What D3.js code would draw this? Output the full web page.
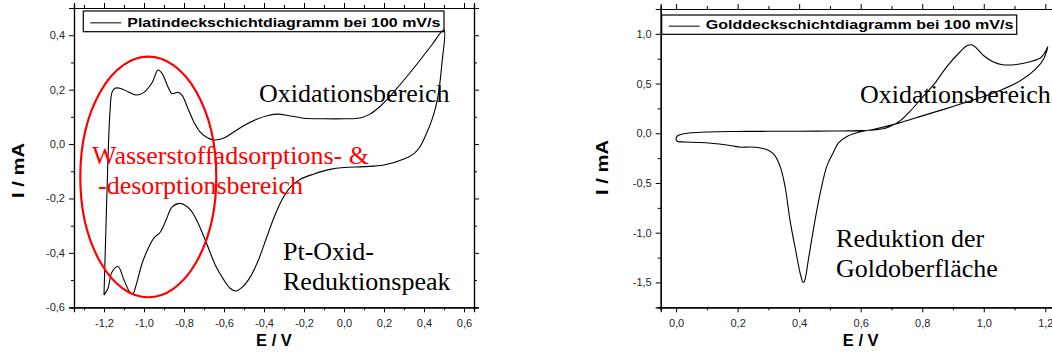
<!DOCTYPE html>
<html>
<head>
<meta charset="utf-8">
<script src="https://cdn.jsdelivr.net/npm/d3@7"></script>
<style>
  body { margin: 0; background: #fff; }
  svg { display: block; }
</style>
</head>
<body>
<svg id="chart" width="1052" height="358"></svg>
<script>
// ---- Platinum cyclic voltammogram (anodic sweep -1.2 V -> 0.5 V, then back) ----
const ptPotential = [
  -1.2, -1.19, -1.18, -1.17, -1.16, -1.145, -1.12, -1.08, -1.04, -1.0, -0.96, -0.93, -0.91,
  -0.88, -0.86, -0.83, -0.81, -0.78, -0.75, -0.72, -0.68, -0.65, -0.6, -0.55, -0.5, -0.44,
  -0.38, -0.33, -0.28, -0.2, -0.1, 0.0, 0.08, 0.13, 0.18, 0.23, 0.28, 0.33, 0.38, 0.44, 0.5,
  0.49, 0.475, 0.46, 0.44, 0.41, 0.38, 0.35, 0.3, 0.2, 0.1, 0.0, -0.07, -0.15, -0.22, -0.27,
  -0.31, -0.35, -0.39, -0.43, -0.47, -0.51, -0.54, -0.57, -0.6, -0.64, -0.69, -0.73, -0.77,
  -0.82, -0.86, -0.89, -0.92, -0.95, -0.98, -1.01, -1.04, -1.055, -1.07, -1.1, -1.13, -1.16,
  -1.18, -1.2
];
const ptCurrent = [
  -0.555, -0.3, -0.05, 0.12, 0.19, 0.205, 0.205, 0.192, 0.18, 0.19, 0.225, 0.272, 0.26,
  0.21, 0.185, 0.19, 0.18, 0.13, 0.08, 0.045, 0.022, 0.015, 0.022, 0.045, 0.068, 0.09,
  0.105, 0.11, 0.105, 0.095, 0.093, 0.093, 0.096, 0.11, 0.138, 0.175, 0.218, 0.262, 0.308, 0.365, 0.42,
  0.3, 0.2, 0.14, 0.09, 0.035, -0.01, -0.035, -0.055, -0.077, -0.083, -0.086, -0.093, -0.11, -0.13, -0.16,
  -0.205, -0.27, -0.35, -0.43, -0.49, -0.527, -0.54, -0.53, -0.5, -0.45, -0.36, -0.29, -0.24,
  -0.218, -0.232, -0.28, -0.325, -0.345, -0.385, -0.44, -0.52, -0.55, -0.545, -0.5, -0.45, -0.47,
  -0.53, -0.555
];

// ---- Gold cyclic voltammogram (anodic sweep 0 V -> 1.2 V, then back) ----
const auPotential = [
  0.0, 0.005, 0.02, 0.05, 0.1, 0.2, 0.3, 0.4, 0.5, 0.6, 0.65, 0.68, 0.7, 0.73, 0.76, 0.8,
  0.84, 0.88, 0.92, 0.945, 0.96, 0.975, 1.0, 1.03, 1.06, 1.1, 1.15, 1.185, 1.2, 1.208,
  1.195, 1.17, 1.12, 1.06, 1.0, 0.9, 0.8, 0.72, 0.65, 0.6, 0.56, 0.53, 0.51, 0.49, 0.47,
  0.45, 0.43, 0.418, 0.413, 0.405, 0.39, 0.37, 0.355, 0.34, 0.32, 0.3, 0.27, 0.24, 0.21,
  0.18, 0.13, 0.08, 0.03, 0.005, 0.0, 0.0
];
const auCurrent = [
  -0.05, -0.025, -0.008, 0.005, 0.013, 0.018, 0.02, 0.021, 0.023, 0.027, 0.035, 0.05, 0.075, 0.13, 0.22, 0.36,
  0.5, 0.67, 0.81, 0.88, 0.89, 0.86, 0.78, 0.72, 0.69, 0.69, 0.72, 0.76, 0.82, 0.87,
  0.75, 0.65, 0.53, 0.44, 0.37, 0.27, 0.175, 0.1, 0.045, 0.015, -0.025, -0.09, -0.2, -0.33, -0.58,
  -0.9, -1.27, -1.48, -1.5, -1.43, -1.2, -0.87, -0.55, -0.35, -0.22, -0.17, -0.145, -0.138, -0.14,
  -0.125, -0.105, -0.093, -0.087, -0.082, -0.065, -0.05
];

// ---- Axis ticks ----
const ptXTicks = [-1.2, -1.0, -0.8, -0.6, -0.4, -0.2, 0.0, 0.2, 0.4, 0.6];
const ptXMinor = [-1.3, -1.1, -0.9, -0.7, -0.5, -0.3, -0.1, 0.1, 0.3, 0.5];
const ptYTicks = [-0.6, -0.4, -0.2, 0.0, 0.2, 0.4];
const ptYMinor = [-0.5, -0.3, -0.1, 0.1, 0.3];
const auXTicks = [0.0, 0.2, 0.4, 0.6, 0.8, 1.0, 1.2];
const auXMinor = [0.1, 0.3, 0.5, 0.7, 0.9, 1.1];
const auYTicks = [-1.5, -1.0, -0.5, 0.0, 0.5, 1.0];
const auYMinor = [-1.25, -0.75, -0.25, 0.25, 0.75];

// ---- Texts ----
const ptLegend = "Platindeckschichtdiagramm bei 100 mV/s";
const auLegend = "Golddeckschichtdiagramm bei 100 mV/s";
const xTitle = "E / V";
const yTitle = "I / mA";

// annotation labels, anchored in data units (potential, current)
const ptNotes = [
  { text: "Oxidationsbereich", e: -0.425, i: 0.155, color: "#000" },
  { text: "Wasserstoffadsorptions- &", e: -1.26, i: -0.072, color: "#ff0000" },
  { text: "-desorptionsbereich", e: -1.23, i: -0.185, color: "#ff0000" },
  { text: "Pt-Oxid-", e: -0.305, i: -0.426, color: "#000" },
  { text: "Reduktionspeak", e: -0.305, i: -0.536, color: "#000" }
];
const auNotes = [
  { text: "Oxidationsbereich", e: 0.598, i: 0.302, color: "#000" },
  { text: "Reduktion der", e: 0.52, i: -1.145, color: "#000" },
  { text: "Goldoberfläche", e: 0.52, i: -1.447, color: "#000" }
];
// hydrogen region marker: centre and radii in data units
const ptRegion = { e: -0.9785, i: -0.121, re: 0.34, ri: 0.442 };

const svg = d3.select("#chart");
svg.append("rect").attr("width", 1052).attr("height", 358).attr("fill", "#fff");

const fmt = v => d3.format(".1f")(v).replace(".", ",").replace("\u2212", "-");
const SANS = "'Liberation Sans', Arial, sans-serif";
const SERIF = "'Liberation Serif', 'Times New Roman', serif";

function panel(cfg) {
  const g = svg.append("g").attr("transform", `translate(${cfg.left},${cfg.top})`);
  const x = d3.scaleLinear().domain(cfg.xDomain).range([0, cfg.width]);
  const y = d3.scaleLinear().domain(cfg.yDomain).range([cfg.height, 0]);

  const styleAxis = sel => {
    sel.select(".domain").attr("stroke", "#000").attr("stroke-width", 1.2);
    sel.selectAll(".tick line").attr("stroke", "#000").attr("stroke-width", 1);
    sel.selectAll(".tick text").attr("fill", "#262626")
      .style("font-family", SANS).style("font-size", "11px");
  };

  // bottom & left with labels
  g.append("g").attr("transform", `translate(0,${cfg.height})`)
    .call(d3.axisBottom(x).tickValues(cfg.xTicks).tickFormat(fmt).tickSize(5).tickPadding(7))
    .call(styleAxis);
  g.append("g").attr("transform", `translate(0,${cfg.height})`)
    .call(d3.axisBottom(x).tickValues(cfg.xMinor).tickFormat("").tickSize(3))
    .call(styleAxis);
  g.append("g")
    .call(d3.axisLeft(y).tickValues(cfg.yTicks).tickFormat(fmt).tickSize(5).tickPadding(4))
    .call(styleAxis);
  g.append("g")
    .call(d3.axisLeft(y).tickValues(cfg.yMinor).tickFormat("").tickSize(3))
    .call(styleAxis);
  // mirrored top & right, ticks only
  g.append("g").call(d3.axisTop(x).tickValues(cfg.xTicks).tickFormat("").tickSize(5)).call(styleAxis);
  g.append("g").call(d3.axisTop(x).tickValues(cfg.xMinor).tickFormat("").tickSize(3)).call(styleAxis);
  g.append("g").attr("transform", `translate(${cfg.width},0)`)
    .call(d3.axisRight(y).tickValues(cfg.yTicks).tickFormat("").tickSize(5)).call(styleAxis);
  g.append("g").attr("transform", `translate(${cfg.width},0)`)
    .call(d3.axisRight(y).tickValues(cfg.yMinor).tickFormat("").tickSize(3)).call(styleAxis);

  // legend box
  const lg = g.append("g").attr("transform", `translate(${cfg.legend.x},${cfg.legend.y})`);
  lg.append("rect").attr("width", cfg.legend.w).attr("height", cfg.legend.h)
    .attr("fill", "#fff").attr("stroke", "#000").attr("stroke-width", 1.2);
  lg.append("line").attr("x1", 7).attr("x2", 38).attr("y1", cfg.legend.h / 2 + 1.5).attr("y2", cfg.legend.h / 2 + 1.5)
    .attr("stroke", "#000").attr("stroke-width", 1);
  lg.append("text").attr("x", 44).attr("y", cfg.legend.h - 5)
    .attr("textLength", cfg.legend.tl).attr("lengthAdjust", "spacingAndGlyphs")
    .style("font-family", SANS).style("font-weight", "bold").style("font-size", "13px")
    .text(cfg.legend.text);

  // curve
  const line = d3.line().x(d => x(d[0])).y(d => y(d[1])).curve(d3.curveCatmullRom.alpha(0.5));
  const pts = cfg.E.map((e, k) => [e, cfg.I[k]]);
  g.append("path").datum(pts).attr("d", line)
    .attr("fill", "none").attr("stroke", "#000").attr("stroke-width", 1.1);

  // region ellipse
  if (cfg.region) {
    const r = cfg.region;
    g.append("ellipse")
      .attr("cx", x(r.e)).attr("cy", y(r.i))
      .attr("rx", x(r.e + r.re) - x(r.e)).attr("ry", y(r.i - r.ri) - y(r.i))
      .attr("fill", "none").attr("stroke", "#ff0000").attr("stroke-width", 2.2);
  }

  // annotations
  g.selectAll("text.note").data(cfg.notes).join("text").attr("class", "note")
    .attr("x", d => x(d.e)).attr("y", d => y(d.i))
    .attr("fill", d => d.color)
    .style("font-family", SERIF).style("font-size", "26px")
    .text(d => d.text);

  // axis titles
  g.append("text").attr("x", cfg.width / 2).attr("y", 345.5 - cfg.top)
    .attr("text-anchor", "middle")
    .style("font-family", SANS).style("font-weight", "bold").style("font-size", "16.5px")
    .text(xTitle);
  g.append("text")
    .attr("transform", `translate(${cfg.yTitle.x - cfg.left},${cfg.yTitle.y - cfg.top}) rotate(-90)`)
    .attr("text-anchor", "middle")
    .attr("textLength", 55).attr("lengthAdjust", "spacingAndGlyphs")
    .style("font-family", SANS).style("font-weight", "bold").style("font-size", "16.5px")
    .text(yTitle);
}

panel({
  left: 74, top: 8, width: 400, height: 299.3,
  xDomain: [-1.35, 0.65], yDomain: [-0.6, 0.5],
  xTicks: ptXTicks, xMinor: ptXMinor, yTicks: ptYTicks, yMinor: ptYMinor,
  E: ptPotential, I: ptCurrent,
  legend: { x: 9.3, y: 3, w: 360.7, h: 20.7, text: ptLegend, tl: 313 },
  notes: ptNotes, region: ptRegion,
  yTitle: { x: 24, y: 170.5 }
});

panel({
  left: 660.7, top: 9, width: 400, height: 298.3,
  xDomain: [-0.05, 1.25], yDomain: [-1.75, 1.25],
  xTicks: auXTicks, xMinor: auXMinor, yTicks: auYTicks, yMinor: auYMinor,
  E: auPotential, I: auCurrent,
  legend: { x: 1, y: 6, w: 355, h: 19.3, text: auLegend, tl: 307.7 },
  notes: auNotes, region: null,
  yTitle: { x: 608, y: 167.5 }
});
</script>
</body>
</html>
